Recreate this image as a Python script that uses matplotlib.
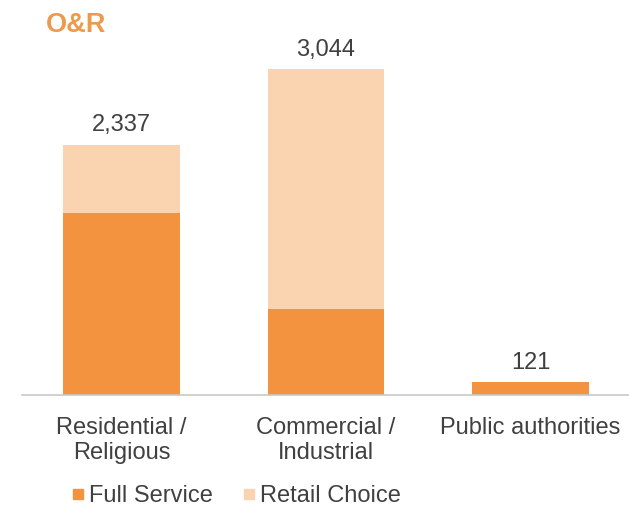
import matplotlib
matplotlib.use("Agg")
import matplotlib.pyplot as plt
from matplotlib.lines import Line2D

categories = ["Residential /\nReligious", "Commercial /\nIndustrial", "Public authorities"]
full_service = [1702, 804, 121]
retail_choice = [635, 2240, 0]
totals = [2337, 3044, 121]
total_labels = ["2,337", "3,044", "121"]

c_full = "#F4933F"
c_retail = "#FAD3B0"
c_text = "#404040"
fs = 17

plt.rcParams["font.family"] = ["Liberation Sans", "DejaVu Sans"]

fig = plt.figure(figsize=(6.29, 5.12), dpi=100)
ax = fig.add_axes([22 / 629, 117 / 512, 607 / 629, 375 / 512])

x = list(range(len(categories)))
w = 0.572
ax.bar(x, full_service, width=w, color=c_full, zorder=2)
ax.bar(x, retail_choice, width=w, bottom=full_service, color=c_retail, zorder=2)

for xi, t, lab in zip(x, totals, total_labels):
    ax.annotate(lab, (xi, t), xytext=(0, 6), textcoords="offset points",
                ha="center", va="bottom", fontsize=fs, color=c_text)

ax.set_xlim(-0.4866, 2.4817)
ax.set_ylim(0, 375 * 9.34)
ax.set_xticks(x)
ax.set_xticklabels(categories, fontsize=fs, color=c_text, linespacing=1.22)
ax.tick_params(axis="x", length=0, pad=15.5)
ax.set_yticks([])
for s in ["top", "right", "left"]:
    ax.spines[s].set_visible(False)
ax.spines["bottom"].set_color("#C8C8C8")
ax.spines["bottom"].set_linewidth(1.2)

fig.text(46 / 629, 1 - 25 / 512, "O&R", fontsize=19.5, fontweight="bold",
         color="#EE9A4D", ha="left", va="center")

handles = [Line2D([], [], marker="s", linestyle="none", markersize=7.5, color=c_full),
           Line2D([], [], marker="s", linestyle="none", markersize=7.5, color=c_retail)]
fig.legend(handles, ["Full Service", "Retail Choice"], loc="center",
           bbox_to_anchor=(236 / 629, 1 - 496 / 512), ncol=2, frameon=False,
           fontsize=fs, handlelength=0.6, handletextpad=0.15, columnspacing=1.25,
           labelcolor=c_text)

fig.savefig("out.png", dpi=100)
